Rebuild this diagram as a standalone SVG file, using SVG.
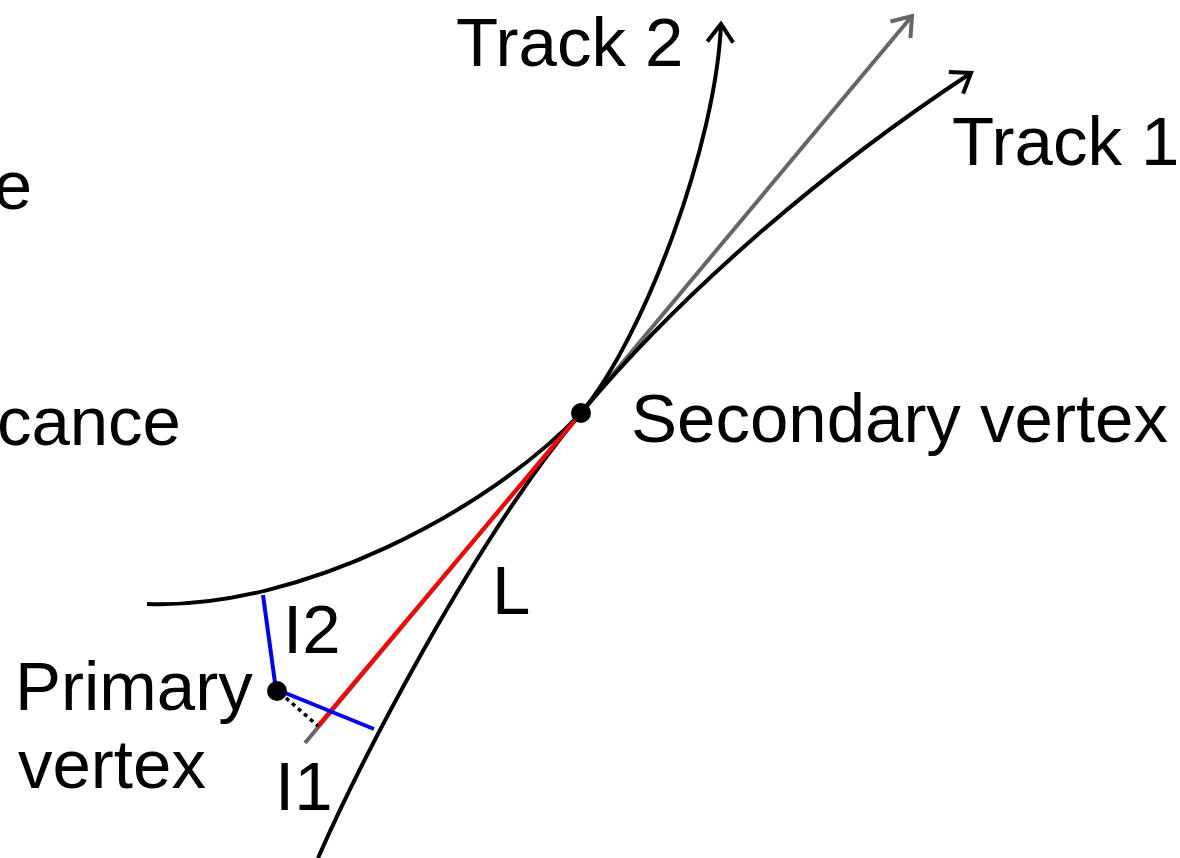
<svg xmlns="http://www.w3.org/2000/svg" width="1180" height="858" viewBox="0 0 1180 858">
<style>
text{font-family:"Liberation Sans",Arial,sans-serif;font-size:69px;fill:#000}
.trk{fill:none;stroke:#000;stroke-width:4}
.blue{stroke:#0000ff;stroke-width:4;fill:none}
</style>
<defs>
<marker id="ab" markerUnits="userSpaceOnUse" markerWidth="40" markerHeight="40" refX="0" refY="0" viewBox="-24 -20 30 40" orient="auto">
<path d="M-18,-13 L0,0 L-18,13" fill="none" stroke="#000" stroke-width="4"/>
</marker>
<marker id="ag" markerUnits="userSpaceOnUse" markerWidth="40" markerHeight="40" refX="0" refY="0" viewBox="-24 -20 30 40" orient="auto">
<path d="M-18,-13 L0,0 L-18,13" fill="none" stroke="#666" stroke-width="4"/>
</marker>
</defs>
<g id="connectors">
<line id="flight" x1="305" y1="743" x2="912" y2="16" stroke="#666" stroke-width="4" marker-end="url(#ag)"/>
<path id="track1" class="trk" d="M318,858 C358,767 471,544 581,413 C681,293 822,171 971,73" marker-end="url(#ab)"/>
<path id="track2" class="trk" d="M147,604 C300,610 490,510 581,413 C645,336 716,144 721,24" marker-end="url(#ab)"/>
<line id="L" x1="317" y1="727" x2="581" y2="413" stroke="#ff0000" stroke-width="4"/>
<line id="I2" class="blue" x1="263" y1="595" x2="276" y2="690"/>
<line id="I1" class="blue" x1="278" y1="690" x2="374" y2="729"/>
<line id="proj" x1="286" y1="698" x2="318" y2="726" stroke="#000" stroke-width="3.5" stroke-dasharray="4,4"/>
</g>
<g id="secondary-vertex">
<circle cx="581" cy="413" r="10" fill="#000"/>
<text x="631" y="442">Secondary vertex</text>
</g>
<g id="primary-vertex">
<circle cx="277" cy="691" r="10" fill="#000"/>
<text x="15" y="710">Primary</text>
<text x="18" y="788">vertex</text>
</g>
<g id="labels">
<text x="456" y="66">Track 2</text>
<text x="952" y="165">Track 1</text>
<text x="492" y="614">L</text>
<text x="283" y="653">I2</text>
<text x="275" y="810">I1</text>
<text x="32" y="209" text-anchor="end">e</text>
<text x="181" y="445" text-anchor="end">cance</text>
</g>
</svg>
